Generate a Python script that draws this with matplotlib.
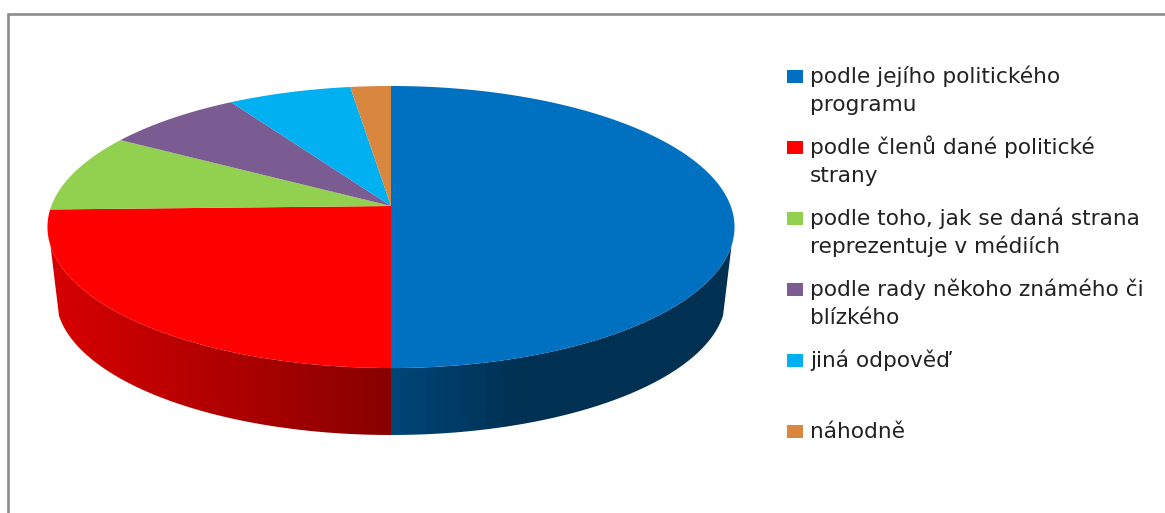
import numpy as np
import matplotlib
matplotlib.use('Agg')
import matplotlib.pyplot as plt
from matplotlib.colors import to_rgb
from matplotlib.patches import Polygon, Rectangle

plt.rcParams['font.family'] = ['DejaVu Sans']

labels = ['podle jejího politického\nprogramu',
          'podle členů dané politické\nstrany',
          'podle toho, jak se daná strana\nreprezentuje v médiích',
          'podle rady někoho známého či\nblízkého',
          'jiná odpověď\n ',
          'náhodně']
values = [50.0, 24.6, 9.0, 7.5, 6.7, 2.2]
colors = ['#0070c0', '#ff0000', '#92d050', '#7a5c92', '#00b0f0', '#d9863f']

W, H = 1165, 513


def project(theta, scale=1.0, drop=0.0):
    # circle seen in perspective, front half looks bigger (theta in deg, math convention)
    X = np.cos(np.deg2rad(theta))
    Y = np.sin(np.deg2rad(theta))
    persp = 0.149
    d = 1 + persp * Y
    return 391 + scale * 339.7 * X / d, 206 + drop - scale * 137.9 * Y / d


fig = plt.figure(figsize=(W / 100, H / 100), dpi=100)
ax = fig.add_axes([0, 0, 1, 1])

# outer frame, only left and top are visible
ax.plot([8, 8, W], [H, 14, 14], color='#8c8c8c', lw=1.9, solid_joinstyle='miter')

edges = 360 * np.cumsum([0] + values) / sum(values)

# rim: one clipped vertical gradient per visible slice (red left, blue right)
walls = [(1, (196, 270), [40, 391], [0.85, 0.54]),
         (0, (270, 344), [391, 520], [0.62, 0.43])]
for i, (t0, t1), xs, shades in walls:
    th = np.linspace(t0, t1, 200)
    x1, y1 = project(th)
    x2, y2 = project(th, scale=0.975, drop=71)
    poly = Polygon(np.c_[np.r_[x1, x2[::-1]], np.r_[y1, y2[::-1]]], closed=True,
                   transform=ax.transData, fc='none', lw=0)
    ax.add_patch(poly)
    left, right = min(x1.min(), x2.min()), max(x1.max(), x2.max())
    cols = np.linspace(left, right, 40)
    rgb = np.outer(np.interp(cols, xs, shades), to_rgb(colors[i]))[np.newaxis, :, :]
    im = ax.imshow(rgb, extent=(left, right, 440, 200), aspect='auto',
                   interpolation='nearest', zorder=2)
    im.set_clip_path(poly)

# top face
for i in range(len(values)):
    th = 90 - np.linspace(edges[i], edges[i + 1], 200)
    x, y = project(th)
    ax.fill(np.r_[391, x], np.r_[206, y], color=colors[i], lw=0, zorder=3)

# legend, written by hand because the markers sit on the first line of each label
y = 83
for lab, col in zip(labels, colors):
    ax.add_patch(Rectangle((787, y - 13), 15.5, 13, color=col, lw=0, zorder=4))
    for line in lab.split('\n'):
        ax.text(810, y, line, fontsize=15.6, color='#222222', va='baseline', ha='left')
        y += 28.3
    y += 14.3

ax.set_xlim(0, W)
ax.set_ylim(H, 0)
ax.axis('off')

fig.savefig('out.png', dpi=100)
